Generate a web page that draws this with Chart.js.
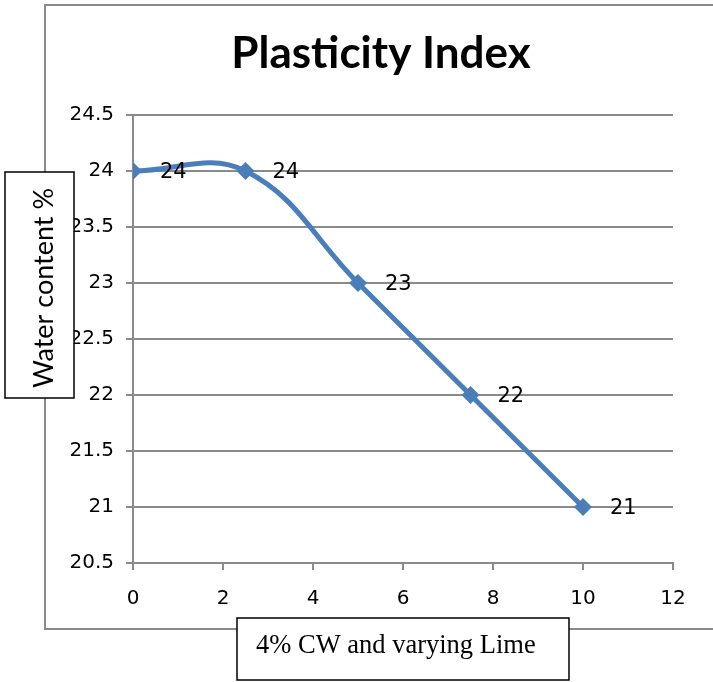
<!DOCTYPE html>
<html>
<head>
<meta charset="utf-8">
<script src="https://cdn.jsdelivr.net/npm/chart.js@4/dist/chart.umd.min.js"></script>
<style>
  html, body { margin: 0; padding: 0; background: #fff; }
  #c { display: block; }
</style>
</head>
<body>
<canvas id="c" width="713" height="682"></canvas>
<script>
// ---- data ----
const limeValues = [0, 2.5, 5, 7.5, 10];
const waterContent = [24, 24, 23, 22, 21];
const yTickValues = [20.5, 21, 21.5, 22, 22.5, 23, 23.5, 24, 24.5];
const xTickValues = [0, 2, 4, 6, 8, 10, 12];
const chartTitle = 'Plasticity Index';
const yTitle = 'Water content %';
const xTitle = '4% CW and varying Lime';

const GRID = '#8a8a8a';
const BLUE = '#4A7EBB';
const FONT = 'Lato, "Open Sans", sans-serif';
const TICKFONT = '"DejaVu Sans", sans-serif';

const decorPlugin = {
  id: 'decor',
  beforeDraw(chart) {
    const ctx = chart.ctx;
    ctx.save();
    ctx.fillStyle = '#fff';
    ctx.fillRect(0, 0, chart.width, chart.height);
    // outer frame
    ctx.strokeStyle = GRID;
    ctx.lineWidth = 2;
    ctx.beginPath();
    ctx.moveTo(chart.width + 5, 5);
    ctx.lineTo(45, 5);
    ctx.lineTo(45, 629);
    ctx.lineTo(chart.width + 5, 629);
    ctx.stroke();
    // title
    ctx.fillStyle = '#000';
    ctx.font = 'bold 44px ' + FONT;
    ctx.textAlign = 'center';
    ctx.textBaseline = 'alphabetic';
    ctx.fillText(chartTitle, 381, 68);
    ctx.restore();
  },
  afterDatasetsDraw(chart) {
    const ctx = chart.ctx;
    const meta = chart.getDatasetMeta(0);
    ctx.save();
    ctx.fillStyle = '#000';
    ctx.font = '21px ' + TICKFONT;
    ctx.textAlign = 'left';
    ctx.textBaseline = 'middle';
    meta.data.forEach((pt, i) => {
      ctx.fillText(String(waterContent[i]), pt.x + 27, pt.y + 2);
    });
    ctx.restore();
  },
  afterDraw(chart) {
    const ctx = chart.ctx;
    ctx.save();
    // y title box
    ctx.fillStyle = '#fff';
    ctx.fillRect(5, 172, 69, 226);
    ctx.strokeStyle = '#000';
    ctx.lineWidth = 1.5;
    ctx.strokeRect(5, 172, 69, 226);
    ctx.translate(44, 288);
    ctx.rotate(-Math.PI / 2);
    ctx.fillStyle = '#000';
    ctx.font = '27px ' + FONT;
    ctx.textAlign = 'center';
    ctx.textBaseline = 'middle';
    ctx.fillText(yTitle, 0, 0);
    ctx.restore();

    ctx.save();
    ctx.fillStyle = '#fff';
    ctx.fillRect(237, 618, 332, 62);
    ctx.strokeStyle = '#000';
    ctx.lineWidth = 1.5;
    ctx.strokeRect(237, 618, 332, 62);
    ctx.fillStyle = '#000';
    ctx.font = '26.5px "Liberation Serif", "Times New Roman", serif';
    ctx.textAlign = 'left';
    ctx.textBaseline = 'alphabetic';
    ctx.fillText(xTitle, 256, 653);
    ctx.restore();
  }
};

new Chart(document.getElementById('c'), {
  type: 'line',
  data: {
    datasets: [{
      data: limeValues.map((x, i) => ({ x: x, y: waterContent[i] })),
      borderColor: BLUE,
      backgroundColor: BLUE,
      borderWidth: 5,
      tension: 0.4,
      pointStyle: 'rectRot',
      pointRadius: 9,
      pointBackgroundColor: BLUE,
      pointBorderColor: BLUE,
      pointBorderWidth: 0,
      fill: false
    }]
  },
  options: {
    responsive: false,
    animation: false,
    events: [],
    layout: { padding: { left: 0, top: 115, right: 40, bottom: 0 } },
    plugins: { legend: { display: false }, title: { display: false }, tooltip: { enabled: false } },
    scales: {
      x: {
        type: 'linear',
        min: 0, max: 12,
        afterBuildTicks(scale) { scale.ticks = xTickValues.map(v => ({ value: v })); },
        afterFit(scale) { scale.height = 119; },
        ticks: { color: '#000', font: { family: TICKFONT, size: 20 }, padding: 17, maxRotation: 0,
                 callback: v => String(v) },
        grid: { drawOnChartArea: false, drawTicks: true, tickLength: 7, color: GRID, lineWidth: 2 },
        border: { display: true, color: GRID, width: 2 }
      },
      y: {
        type: 'linear',
        min: 20.5, max: 24.5,
        afterBuildTicks(scale) { scale.ticks = yTickValues.map(v => ({ value: v })); },
        afterFit(scale) { scale.width = 133; },
        ticks: { color: '#000', font: { family: TICKFONT, size: 20 }, padding: 12,
                 callback: v => String(v) },
        grid: { drawOnChartArea: true, drawTicks: true, tickLength: 7, color: GRID, lineWidth: 2 },
        border: { display: true, color: GRID, width: 2 }
      }
    }
  },
  plugins: [decorPlugin]
});
</script>
</body>
</html>
